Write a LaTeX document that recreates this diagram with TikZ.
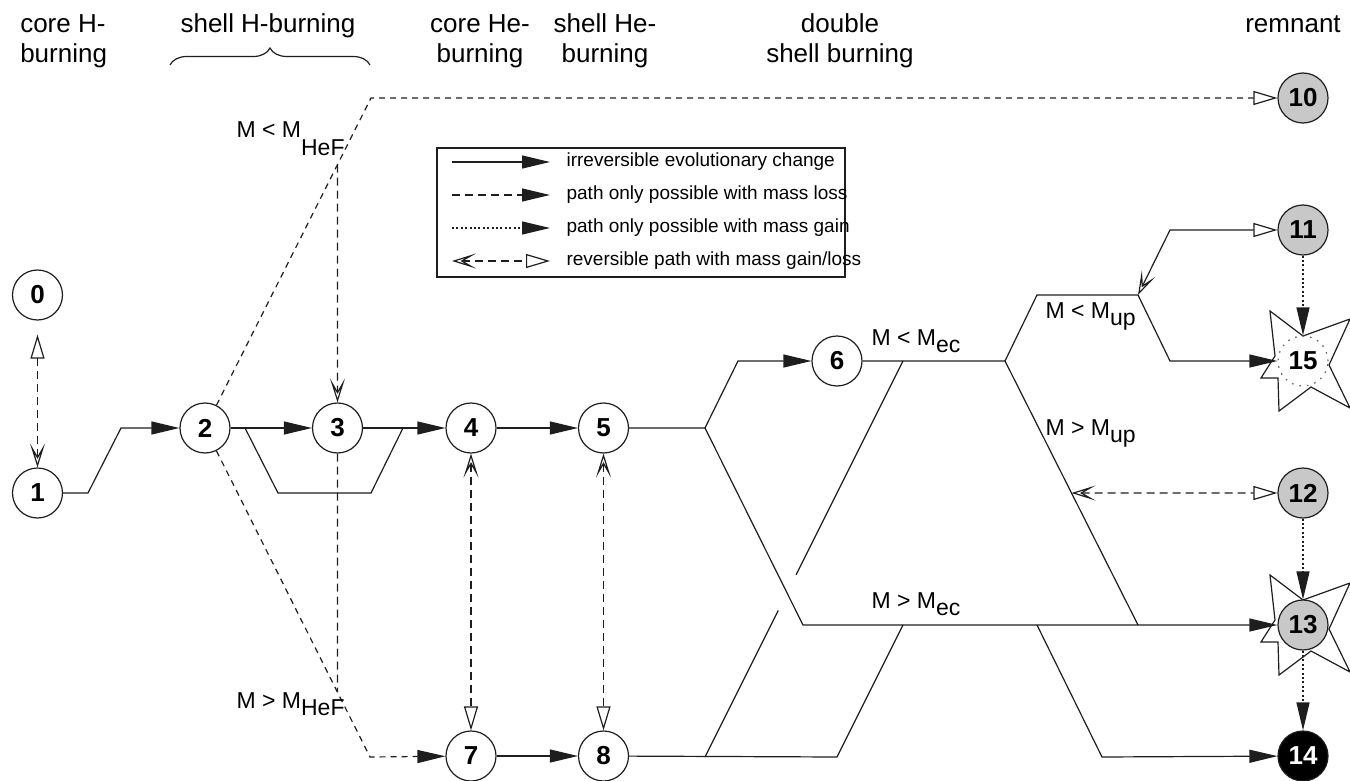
\documentclass[tikz,border=0pt]{standalone}
\usepackage{fontspec}
\setmainfont{Liberation Sans}
\usetikzlibrary{arrows.meta,positioning,calc,decorations.pathreplacing}
\definecolor{remgray}{RGB}{200,200,200}
\definecolor{ink}{RGB}{30,30,30}
\newcommand{\lowsub}[2]{\raisebox{-#1}{#2}}

\tikzset{
    filltip/.tip={Triangle[length=14pt,width=6.5pt]},
    opentri/.tip={Triangle[open,length=12pt,width=7pt]},
    openv/.tip={Stealth[open,length=12pt,width=7.5pt,inset=6.5pt]}
}

\begin{document}
\begin{tikzpicture}[
    x=0.5pt, y=-0.5pt, line width=0.6pt, draw=ink,
    state/.style={circle, draw=ink, minimum size=25pt, inner sep=0pt, font=\fontsize{13}{13}\selectfont\bfseries},
    remnant/.style={state, fill=remgray},
    hdr/.style={font=\fontsize{13}{15}\selectfont, align=center, anchor=base},
    lbl/.style={font=\fontsize{11.5}{13}\selectfont, anchor=base west, inner sep=0pt},
    legtext/.style={font=\fontsize{9.5}{11}\selectfont, anchor=west, inner sep=0pt},
    irrev/.style={-filltip},
    loss/.style={dash pattern=on 4pt off 2.5pt, -filltip},
    gain/.style={dash pattern=on 1pt off 1.2pt, -filltip},
    rev/.style={dash pattern=on 4pt off 2.5pt, openv-opentri},
    burst/.pic={\draw[fill=white] (-33,-50) -- (0,-25) -- (47,-42) -- (26,4) -- (47,47) -- (8,26)
        -- (-24,50) -- (-25,17) -- (-42,17) -- (-28,-5) -- cycle;}
]
\useasboundingbox (0,0) rectangle (1350,781);

\node[hdr, align=left, anchor=base west] (hcoreh) at (13,63) {core H-\\burning};
\node[hdr] (hshellh) at (268,33) {shell H-burning};
\node[hdr] (hcorehe) at (480,63) {core He-\\burning};
\node[hdr] (hshellhe) at (605,63) {shell He-\\burning};
\node[hdr] (hdouble) at (840,63) {double\\shell burning};
\node[hdr] (hrem) at (1293,33) {remnant};
\draw[decorate, decoration={brace, amplitude=8.5pt}] (170,65) -- (370,65);

\node[draw=ink, minimum width=204pt, minimum height=64.5pt, inner sep=0pt] (legend) at (641,212.5) {};
\foreach \sty/\txt [count=\i] in {irrev/irreversible evolutionary change, loss/path only possible with mass loss,
    gain/path only possible with mass gain, rev/{reversible path with mass gain/loss}} {
    \coordinate (la\i) at (452,129+33*\i);
    \coordinate (lb\i) at (550,129+33*\i);
    \draw[\sty] (la\i) -- (lb\i);
    \node[legtext] (lt\i) at (566,129+33*\i) {\txt};
}

\coordinate (p13) at (1303,625);
\coordinate (p15) at (1303,361);
\pic at (p13) {burst};
\pic at (p15) {burst};

\node[state] (s0) at (37.5,295) {0};
\node[state] (s1) at (37.5,493) {1};
\node[state] (s2) at (205,428) {2};
\node[state] (s3) at (337.5,428) {3};
\node[state] (s4) at (471,428) {4};
\node[state] (s5) at (603.5,428) {5};
\node[state] (s6) at (837,361) {6};
\node[state] (s7) at (471,756) {7};
\node[state] (s8) at (603.5,756) {8};
\node[remnant] (s10) at (1303,98) {10};
\node[remnant] (s11) at (1303,230) {11};
\node[remnant] (s12) at (1303,493) {12};
\node[remnant] (s13) at (p13) {13};
\node[remnant, fill=black, text=white] (s14) at (1303,756) {14};
\node[state, draw=ink!70, dash pattern=on 0.8pt off 3pt] (s15) at (p15) {15};

\coordinate (a1) at (88,493);
\coordinate (a2) at (121,428);
\coordinate (t1) at (245,428);
\coordinate (t2) at (278,493);
\coordinate (t3) at (371,493);
\coordinate (t4) at (403,428);
\coordinate (hefup) at (371,98);
\coordinate (hefdn) at (370,757);
\coordinate (j5) at (705,428);
\coordinate (k6) at (738,361);
\coordinate (b13) at (803,625);
\coordinate (j8) at (705,757);
\coordinate (k8) at (837,757);
\coordinate (m13) at (903,625);
\coordinate (m6) at (903,361);
\coordinate (j6) at (1005,361);
\coordinate (u1) at (1037,295);
\coordinate (u2) at (1138,295);
\coordinate (u3) at (1170,361);
\coordinate (d1) at (1138,625);
\coordinate (e1) at (1037,625);
\coordinate (e2) at (1102,757);
\coordinate (r11) at (1170,230);

\draw[rev, shorten >=7pt] (s1) -- (s0);
\draw[irrev] (s1) -- (a1) -- (a2) -- (s2);
\draw[irrev] (s2) -- (s3);
\draw[irrev] (s3) -- (t4) -- (s4);
\draw (t1) -- (t2) -- (t3) -- (t4);
\draw[dash pattern=on 3pt off 2.5pt, -opentri] (s2) -- (hefup) -- (s10);
\draw[dash pattern=on 3pt off 2.5pt, -filltip] (s2) -- (hefdn) -- (s7);
\draw[dash pattern=on 4pt off 2.5pt, -openv] (intersection of s3.north--s3.south and s2.center--hefup) -- (s3);
\draw[dash pattern=on 4pt off 2.5pt] (s3) -- (intersection of s3.north--s3.south and s2.center--hefdn);
\draw[irrev] (s4) -- (s5);
\draw[irrev] (s7) -- (s8);
\draw[rev] (s4) -- (s7);
\draw[rev] (s5) -- (s8);

\draw[irrev] (s5) -- (j5) -- (k6) -- (s6);
\draw[irrev] (j5) -- (b13) -- (s13);
\draw (s8) -- (k8) -- (m13);
\draw (j8) -- ($(j8)!0.37!(m6)$);
\draw ($(j8)!0.46!(m6)$) -- (m6);
\draw (s6) -- (j6) -- (d1);
\draw[irrev] (j6) -- (u1) -- (u2) -- (u3) -- (s15);
\draw[irrev] (e1) -- (e2) -- (s14);
\draw[openv-opentri] (u2) -- (r11) -- (s11);
\draw[rev] (intersection of j6--d1 and s12.center--s12.west) -- (s12);
\draw[gain] (s11) -- (s15);
\draw[gain] (s12) -- (s13);
\draw[gain] (s13) -- (s14);

\node[lbl] (lhefup) at (236,138) {M < M\lowsub{9pt}{HeF}};
\node[lbl] (lhefdn) at (236,708) {M > M\lowsub{3.5pt}{HeF}};
\node[lbl] (lecup) at (871,345) {M < M\lowsub{3.5pt}{ec}};
\node[lbl] (lecdn) at (871,608) {M > M\lowsub{3.5pt}{ec}};
\node[lbl] (lupup) at (1045,318) {M < M\lowsub{3.5pt}{up}};
\node[lbl] (lupdn) at (1045,435) {M > M\lowsub{3.5pt}{up}};
\end{tikzpicture}
\end{document}
